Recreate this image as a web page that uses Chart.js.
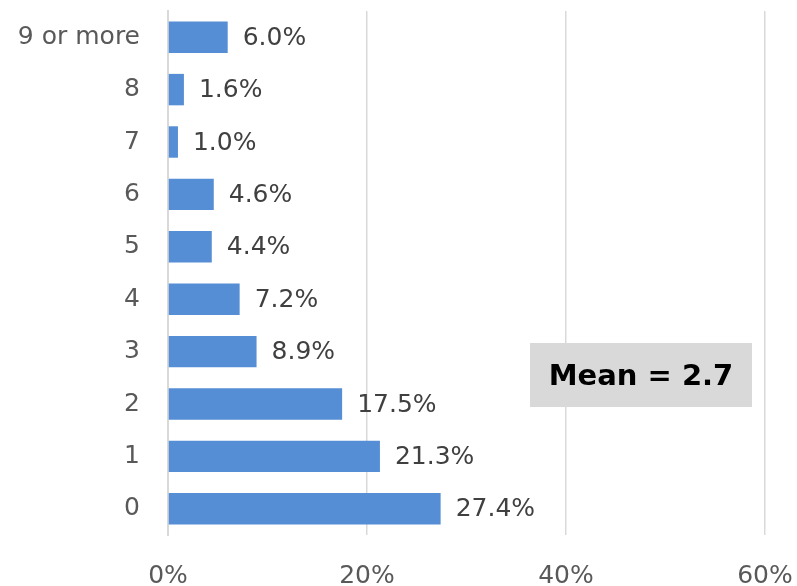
<!DOCTYPE html>
<html>
<head>
<meta charset="utf-8">
<script src="https://cdn.jsdelivr.net/npm/chart.js@4"></script>
<style>
    html, body { margin: 0; padding: 0; background: #fff; overflow: hidden; }
    #wrap { width: 797px; height: 586px; position: relative; }
</style>
</head>
<body>
<div id="wrap"><canvas id="chart"></canvas></div>
<script>
const categories = ["9 or more", "8", "7", "6", "5", "4", "3", "2", "1", "0"];
const shares = [6.0, 1.6, 1.0, 4.6, 4.4, 7.2, 8.9, 17.5, 21.3, 27.4];
const xTicks = [0, 20, 40, 60];
const meanText = "Mean = 2.7";

const FONT = "'DejaVu Sans', sans-serif";

// value labels at the end of each bar
const barLabels = {
    id: "barLabels",
    afterDatasetsDraw(chart) {
        const ctx = chart.ctx;
        const meta = chart.getDatasetMeta(0);
        ctx.save();
        ctx.font = "25px " + FONT;
        ctx.fillStyle = "#404040";
        ctx.textAlign = "left";
        ctx.textBaseline = "middle";
        meta.data.forEach((bar, i) => {
            ctx.fillText(shares[i].toFixed(1) + "%", bar.x + 15, bar.y + 1);
        });
        ctx.restore();
    }
};

// grey box with the mean
const meanBox = {
    id: "meanBox",
    afterDraw(chart) {
        const ctx = chart.ctx;
        ctx.save();
        ctx.fillStyle = "#d9d9d9";
        ctx.fillRect(530, 343, 222, 64);
        ctx.font = "bold 29px " + FONT;
        ctx.fillStyle = "#000";
        ctx.textAlign = "center";
        ctx.textBaseline = "middle";
        ctx.fillText(meanText, 641, 377);
        ctx.restore();
    }
};

new Chart(document.getElementById("chart"), {
    type: "bar",
    data: {
        labels: categories,
        datasets: [{
            data: shares,
            backgroundColor: "#558ed5",
            borderWidth: 0,
            categoryPercentage: 1,
            barPercentage: 0.6
        }]
    },
    options: {
        indexAxis: "y",
        responsive: true,
        maintainAspectRatio: false,
        animation: false,
        layout: { padding: { top: 11, right: 32, left: 0, bottom: 0 } },
        plugins: {
            legend: { display: false },
            tooltip: { enabled: false }
        },
        scales: {
            x: {
                min: 0,
                max: 60,
                afterBuildTicks: scale => {
                    scale.ticks = xTicks.map(v => ({ value: v }));
                },
                afterFit: scale => {
                    scale.height = 51;
                    scale.paddingLeft = 0;
                    scale.paddingRight = 0;
                },
                grid: { color: "#d9d9d9", lineWidth: 1.5, drawTicks: false },
                border: { display: false },
                ticks: {
                    padding: 26,
                    color: "#595959",
                    font: { family: FONT, size: 25 },
                    callback: v => v + "%"
                }
            },
            y: {
                afterFit: scale => {
                    scale.width = 168;
                    scale.paddingTop = 0;
                    scale.paddingBottom = 0;
                },
                grid: { display: false, drawTicks: false },
                border: { display: true, color: "#d9d9d9", width: 2 },
                ticks: {
                    padding: 28,
                    color: "#595959",
                    font: { family: FONT, size: 25 }
                }
            }
        }
    },
    plugins: [barLabels, meanBox]
});
</script>
</body>
</html>
